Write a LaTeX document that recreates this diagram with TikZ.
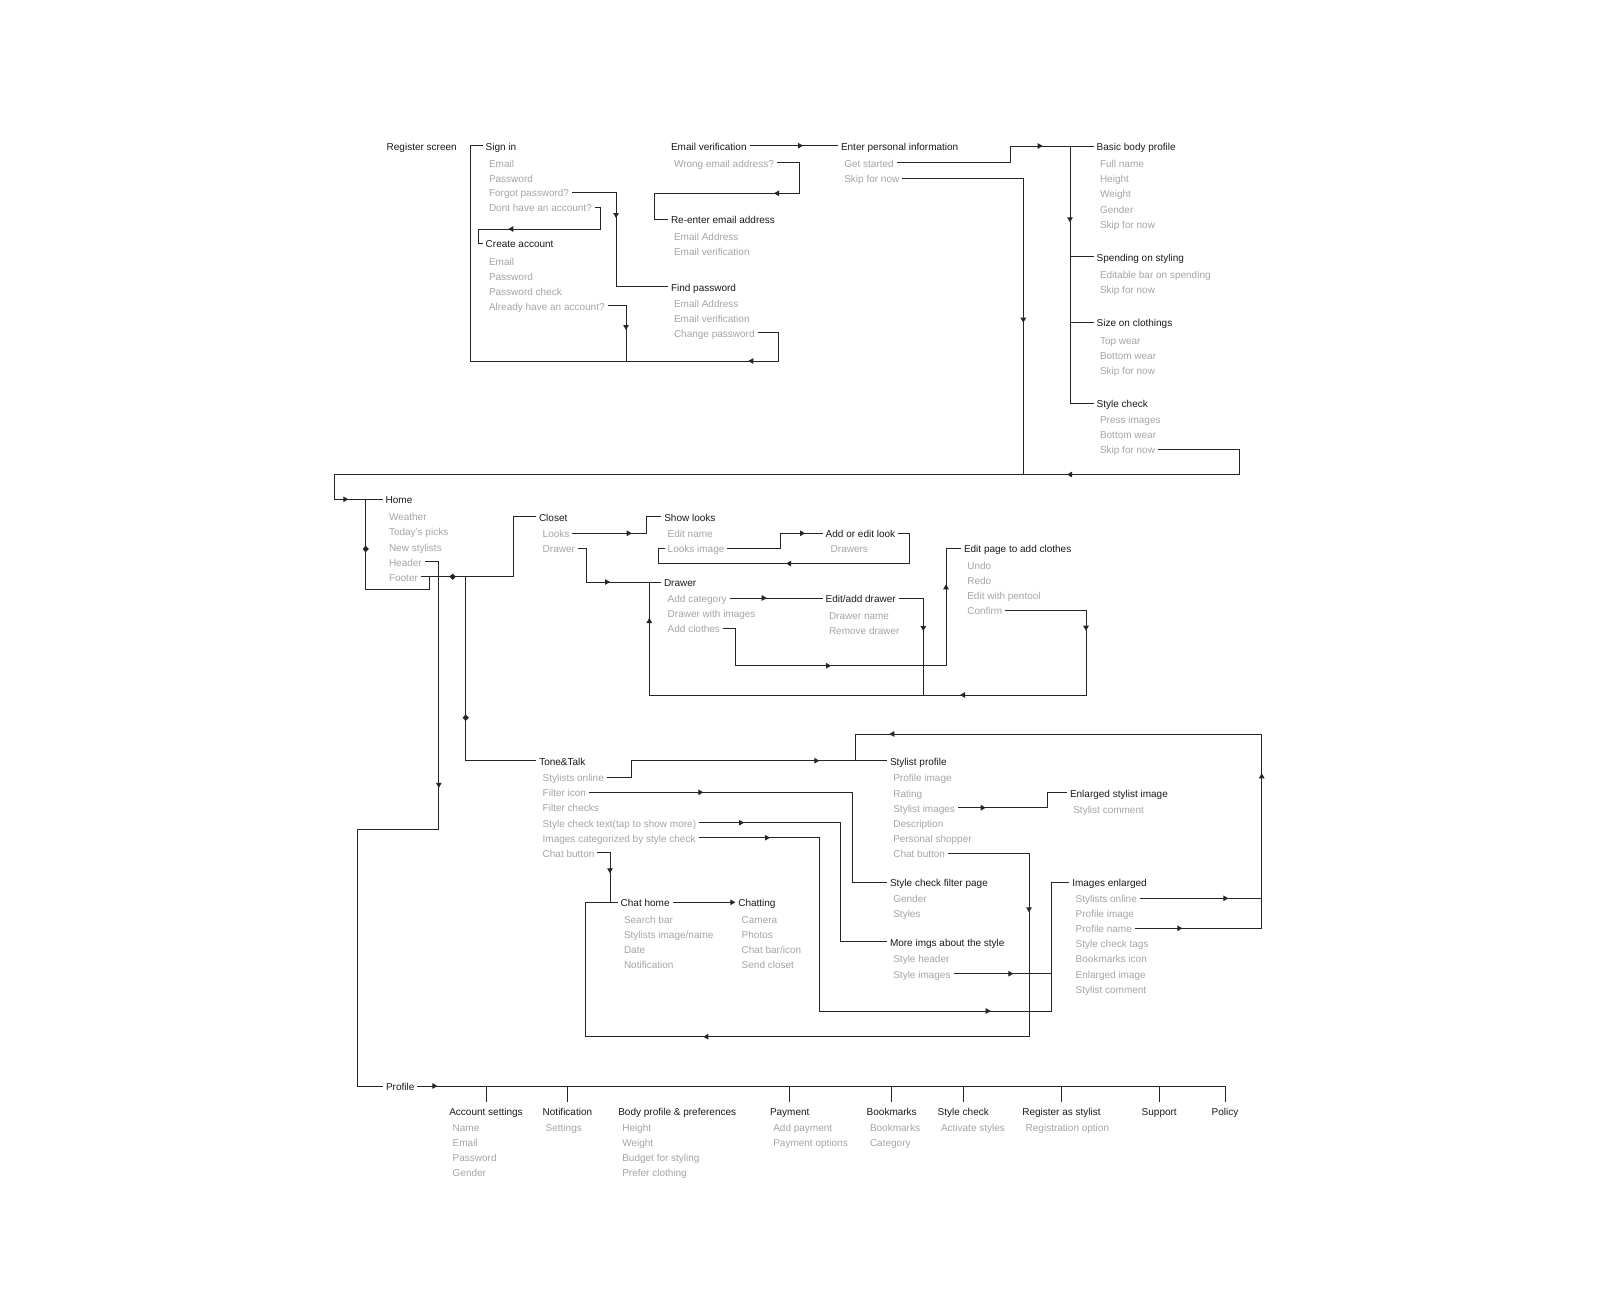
\documentclass[tikz,border=0pt]{standalone}
\usepackage{fontspec}
\setmainfont{Liberation Sans}
\usetikzlibrary{arrows.meta,decorations.markings}
\definecolor{titlec}{HTML}{1A1A1A}
\definecolor{itemc}{HTML}{A5A5A5}
\definecolor{linec}{HTML}{262626}
\tikzset{
  >={Triangle[length=5pt,width=5.5pt]},
  base/.style={anchor=west,inner xsep=0pt,inner ysep=0pt,outer xsep=3pt,text height=9pt,text depth=0pt,font=\fontsize{10}{11}\selectfont},
  ttl/.style={base,text=titlec},
  itm/.style={base,text=itemc},
  conn/.style={draw,color=linec,line width=0.95pt},
  arr/.style={postaction={decorate,decoration={markings,mark=at position #1 with {\arrow{>}}}}},
  dia/.style={postaction={decorate,decoration={markings,mark=at position #1 with {\fill (-3.3pt,0pt) -- (0pt,3.1pt) -- (3.3pt,0pt) -- (0pt,-3.1pt) -- cycle;}}}}
}
\begin{document}
\begin{tikzpicture}[x=1pt,y=-1pt]
\fill[white] (0,0) rectangle (1600,1291);
\useasboundingbox (0,0) rectangle (1600,1291);
%registrazione
\node[ttl] (regs) at (383.7,145.7) {Register screen};
\node[ttl] (signin) at (482.7,145.7) {Sign in};
\node[itm] (si1) at (486,162.7) {Email};
\node[itm] (si2) at (486,177.5) {Password};
\node[itm] (forgot) at (486,192.3) {Forgot password?};
\node[itm] (noacc) at (486,207.3) {Dont have an account?};
\node[ttl] (create) at (482.7,243.3) {Create account};
\node[itm] (ca1) at (486,260.5) {Email};
\node[itm] (ca2) at (486,275.5) {Password};
\node[itm] (ca3) at (486,290.5) {Password check};
\node[itm] (hasacc) at (486,305.7) {Already have an account?};
\node[ttl] (emailver) at (668,145.7) {Email verification};
\node[itm] (wrong) at (671,162.7) {Wrong email address?};
\node[ttl] (reenter) at (668,219) {Re-enter email address};
\node[itm] (re1) at (671,235.7) {Email Address};
\node[itm] (re2) at (671,250.5) {Email verification};
\node[ttl] (findpw) at (668,286.7) {Find password};
\node[itm] (fp1) at (671,303) {Email Address};
\node[itm] (fp2) at (671,317.7) {Email verification};
\node[itm] (changepw) at (671,332.7) {Change password};
\node[ttl] (info) at (838,145.7) {Enter personal information};
\node[itm] (getstart) at (841.3,162.7) {Get started};
\node[itm] (skipinfo) at (841.3,178.3) {Skip for now};
\node[ttl] (basic) at (1093.7,146) {Basic body profile};
\node[itm] (bb1) at (1097,163.3) {Full name};
\node[itm] (bb2) at (1097,178.3) {Height};
\node[itm] (bb3) at (1097,193.3) {Weight};
\node[itm] (bb4) at (1097,208.7) {Gender};
\node[itm] (bb5) at (1097,223.7) {Skip for now};
\node[ttl] (spend) at (1093.7,256.7) {Spending on styling};
\node[itm] (sp1) at (1097,274) {Editable bar on spending};
\node[itm] (sp2) at (1097,289) {Skip for now};
\node[ttl] (size) at (1093.7,322.3) {Size on clothings};
\node[itm] (sz1) at (1097,339.7) {Top wear};
\node[itm] (sz2) at (1097,354.7) {Bottom wear};
\node[itm] (sz3) at (1097,369.7) {Skip for now};
\node[ttl] (stylechk) at (1093.7,403) {Style check};
\node[itm] (sc1) at (1097,419) {Press images};
\node[itm] (sc2) at (1097,434) {Bottom wear};
\node[itm] (skipsc) at (1097,449.3) {Skip for now};
%home
\node[ttl] (home) at (382.7,499.3) {Home};
\node[itm] (ho1) at (386,516) {Weather};
\node[itm] (ho2) at (386,531.3) {Today's picks};
\node[itm] (ho3) at (386,546.7) {New stylists};
\node[itm] (header) at (386,561.7) {Header};
\node[itm] (footer) at (386,576.7) {Footer};
\node[ttl] (closet) at (536,516.7) {Closet};
\node[itm] (looks) at (539.7,533.3) {Looks};
\node[itm] (drawerit) at (539.7,548.3) {Drawer};
\node[ttl] (showlooks) at (661.3,516.7) {Show looks};
\node[itm] (sl1) at (664.7,533.3) {Edit name};
\node[itm] (looksimg) at (664.7,548.3) {Looks image};
\node[ttl] (addlook) at (822.7,533.3) {Add or edit look};
\node[itm] (al1) at (827.7,548.3) {Drawers};
\node[ttl] (drawer) at (661,582) {Drawer};
\node[itm] (addcat) at (664.7,598) {Add category};
\node[itm] (dr2) at (664.7,613) {Drawer with images};
\node[itm] (addclothes) at (664.7,628.3) {Add clothes};
\node[ttl] (editdrawer) at (822.7,598) {Edit/add drawer};
\node[itm] (ed1) at (826,615) {Drawer name};
\node[itm] (ed2) at (826,629.7) {Remove drawer};
\node[ttl] (editpage) at (961,548.3) {Edit page to add clothes};
\node[itm] (ep1) at (964.3,565) {Undo};
\node[itm] (ep2) at (964.3,580.3) {Redo};
\node[itm] (ep3) at (964.3,595.3) {Edit with pentool};
\node[itm] (confirm) at (964.3,610.3) {Confirm};
%tone&talk
\node[ttl] (tonetalk) at (536.3,760.7) {Tone\&Talk};
\node[itm] (online) at (539.7,777.3) {Stylists online};
\node[itm] (filter) at (539.7,792.3) {Filter icon};
\node[itm] (tt3) at (539.7,807.3) {Filter checks};
\node[itm] (sctext) at (539.7,822.7) {Style check text(tap to show more)};
\node[itm] (imgcat) at (539.7,837.7) {Images categorized by style check};
\node[itm] (chatbtn) at (539.7,852.7) {Chat button};
\node[ttl] (stylist) at (887,760.7) {Stylist profile};
\node[itm] (st1) at (890.3,777.3) {Profile image};
\node[itm] (st2) at (890.3,792.7) {Rating};
\node[itm] (stimgs) at (890.3,807.7) {Stylist images};
\node[itm] (st4) at (890.3,822.7) {Description};
\node[itm] (st5) at (890.3,838) {Personal shopper};
\node[itm] (stchat) at (890.3,853) {Chat button};
\node[ttl] (enlarged) at (1067,792.7) {Enlarged stylist image};
\node[itm] (en1) at (1070.3,809.3) {Stylist comment};
\node[ttl] (filterpage) at (887,882.3) {Style check filter page};
\node[itm] (fi1) at (890.3,898) {Gender};
\node[itm] (fi2) at (890.3,913) {Styles};
\node[ttl] (moreimgs) at (887,941.7) {More imgs about the style};
\node[itm] (mi1) at (890.3,958.3) {Style header};
\node[itm] (styleimgs) at (890.3,973.7) {Style images};
\node[ttl] (imgenl) at (1069.3,882.3) {Images enlarged};
\node[itm] (enlonline) at (1072.7,898.3) {Stylists online};
\node[itm] (ie2) at (1072.7,913.3) {Profile image};
\node[itm] (enlname) at (1072.7,928.3) {Profile name};
\node[itm] (ie4) at (1072.7,943.3) {Style check tags};
\node[itm] (ie5) at (1072.7,958.3) {Bookmarks icon};
\node[itm] (ie6) at (1072.7,973.7) {Enlarged image};
\node[itm] (ie7) at (1072.7,988.7) {Stylist comment};
\node[ttl] (chathome) at (617.7,902.3) {Chat home};
\node[itm] (ch1) at (621,919) {Search bar};
\node[itm] (ch2) at (621,934.3) {Stylists image/name};
\node[itm] (ch3) at (621,949.3) {Date};
\node[itm] (ch4) at (621,964.3) {Notification};
\node[ttl] (chatting) at (735.3,902.3) {Chatting};
\node[itm] (cg1) at (738.7,919) {Camera};
\node[itm] (cg2) at (738.7,934.3) {Photos};
\node[itm] (cg3) at (738.7,949.3) {Chat bar/icon};
\node[itm] (cg4) at (738.7,964.3) {Send closet};
%profilo
\node[ttl] (profile) at (383,1086) {Profile};
\node[ttl] (accset) at (446.3,1110.7) {Account settings};
\node[itm] (as1) at (449.7,1126.8) {Name};
\node[itm] (as2) at (449.7,1142) {Email};
\node[itm] (as3) at (449.7,1157.3) {Password};
\node[itm] (as4) at (449.7,1172.4) {Gender};
\node[ttl] (notif) at (539.7,1110.7) {Notification};
\node[itm] (no1) at (542.7,1126.8) {Settings};
\node[ttl] (bodypref) at (615.3,1110.7) {Body profile \& preferences};
\node[itm] (bp1) at (619.3,1126.8) {Height};
\node[itm] (bp2) at (619.3,1142) {Weight};
\node[itm] (bp3) at (619.3,1157.3) {Budget for styling};
\node[itm] (bp4) at (619.3,1172.4) {Prefer clothing};
\node[ttl] (payment) at (767,1110.7) {Payment};
\node[itm] (pa1) at (770.3,1126.8) {Add payment};
\node[itm] (pa2) at (770.3,1142) {Payment options};
\node[ttl] (bookm) at (863.7,1110.7) {Bookmarks};
\node[itm] (bk1) at (867,1126.8) {Bookmarks};
\node[itm] (bk2) at (867,1142) {Category};
\node[ttl] (pstyle) at (934.7,1110.7) {Style check};
\node[itm] (ps1) at (938,1126.8) {Activate styles};
\node[ttl] (regst) at (1019.3,1110.7) {Register as stylist};
\node[itm] (rs1) at (1022.7,1126.8) {Registration option};
\node[ttl] (support) at (1138.7,1110.7) {Support};
\node[ttl] (policy) at (1208.7,1110.7) {Policy};
%connettori registrazione
\draw[conn,arr=-120.7pt] (forgot.east) -- (616,192.3) |- (findpw.west);
\draw[conn,arr=-48.7pt] (noacc.east) -- (600.7,207.3) |- (478.3,229) |- (create.west);
\draw[conn,arr=-31pt] (hasacc.east) -| (626,361);
\draw[conn,arr=-506.3pt] (changepw.east) -| (778.3,361) -- (470,361) |- (signin.west);
\draw[conn,arr=-35pt] (emailver.east) -- (info.west);
\draw[conn,arr=-159.7pt] (wrong.east) -- (799.3,162.7) |- (654,193.3) |- (reenter.west);
\draw[conn,arr=-51pt] (getstart.east) -- (1010,162.7) |- (basic.west);
\coordinate (bbtrunk) at (1070,146);
\draw[conn,arr=100pt] (basic.west) -- (bbtrunk) |- (stylechk.west);
\draw[conn] (spend.west) -- (spend.west -| bbtrunk);
\draw[conn] (size.west) -- (size.west -| bbtrunk);
\draw[conn,arr=-151.8pt] (skipinfo.east) -| (1023.3,474.5);
\draw[conn,arr=-805.9pt,arr=-34.4pt] (skipsc.east) -| (1239,474.5) -- (334.3,474.5) |- (home.west);
%connettori home
\draw[conn,dia=66.7pt] (home.west) -- (365.7,499.3) -- (365.7,589) -| (429.3,576.7);
\draw[conn,dia=-143.3pt] (footer.east) -- (513.3,576.7) |- (closet.west);
\draw[conn,dia=113.6pt] (tonetalk.west) -| (465.7,576.7);
\draw[conn,arr=-405pt] (header.east) -- (438.8,561.7) -- (438.8,829.6) -| (357.5,1086) -- (profile.west);
%connettori closet
\draw[conn,arr=-46.2pt] (looks.east) -- (646.7,533.3) |- (showlooks.west);
\draw[conn,arr=-51pt] (drawerit.east) -- (586,548.3) |- (drawer.west);
\draw[conn,arr=-17.7pt] (looksimg.east) -- (780,548.3) |- (addlook.west);
\draw[conn,arr=-149.3pt] (addlook.east) -- (909.3,533.3) |- (658.3,563.5) |- (looksimg.west);
\draw[conn,arr=-56pt] (addcat.east) -- (editdrawer.west);
\draw[conn,arr=-64pt] (editdrawer.east) -| (923.3,695);
\draw[conn,arr=-247.4pt,arr=-51pt] (addclothes.east) -- (735,628.3) |- (946,665.7) |- (editpage.west);
\draw[conn,arr=-625.7pt,arr=-435.4pt,arr=-47.7pt] (confirm.east) -| (1086,695) -- (649.3,695) |- (drawer.west);
%connettori tone&talk
\draw[conn,arr=-67.7pt] (online.east) -- (631.7,777.3) |- (stylist.west);
\draw[conn,arr=-739.1pt,arr=-504.7pt,arr=-93pt] (enlname.east) -- (1261.7,928.3) |- (855,734) |- (stylist.west);
\coordinate (rtrunk) at (1261.7,898.3);
\draw[conn,arr=-33.4pt] (enlonline.east) -- (rtrunk);
\draw[conn,arr=-273.7pt] (filter.east) -- (852.3,792.3) |- (filterpage.west);
\draw[conn,arr=-262pt] (sctext.east) -- (840.7,822.7) |- (moreimgs.west);
\draw[conn,arr=-601.3pt,arr=-207.3pt] (imgcat.east) -- (819.3,837.7) |- (1051,1011) |- (imgenl.west);
\coordinate (itrunk) at (1051,1011);
\draw[conn,arr=-37.7pt] (styleimgs.east) -- (styleimgs.east -| itrunk);
\draw[conn,arr=-96.3pt] (stimgs.east) -- (1047.7,807.7) |- (enlarged.west);
\draw[conn,arr=-36.7pt] (chatbtn.east) -- (610,852.7) |- (chathome.west);
\draw[conn,arr=-735.5pt,arr=-285.4pt] (stchat.east) -| (1029,1036.7) -| (585,902.3) -- (chathome.west);
\draw[conn,->] (chathome.east) -- (chatting.west);
%connettori profilo
\draw[conn,arr=20pt] (profile.east) -- (policy.north |- profile.east);
\draw[conn] ([yshift=4.5pt]accset.north) -- (accset.north |- profile.east);
\draw[conn] ([yshift=4.5pt]notif.north) -- (notif.north |- profile.east);
\draw[conn] ([yshift=4.5pt]payment.north) -- (payment.north |- profile.east);
\draw[conn] ([yshift=4.5pt]bookm.north) -- (bookm.north |- profile.east);
\draw[conn] ([yshift=4.5pt]pstyle.north) -- (pstyle.north |- profile.east);
\draw[conn] ([yshift=4.5pt]regst.north) -- (regst.north |- profile.east);
\draw[conn] ([yshift=4.5pt]support.north) -- (support.north |- profile.east);
\draw[conn] ([yshift=4.5pt]policy.north) -- (policy.north |- profile.east);
\end{tikzpicture}
\end{document}
